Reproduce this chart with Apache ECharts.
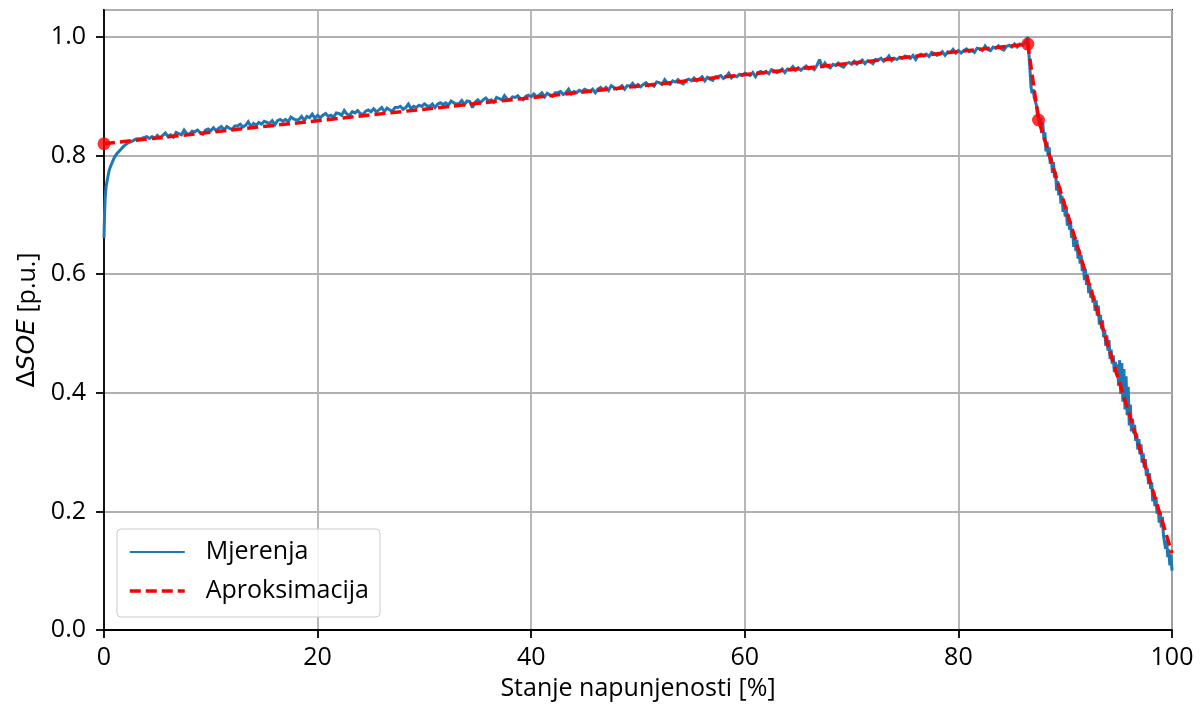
<!DOCTYPE html>
<html>
<head>
<meta charset="utf-8">
<script src="https://cdn.jsdelivr.net/npm/echarts@6/dist/echarts.min.js"></script>
<style>
html,body{margin:0;padding:0;background:#fff;}
#chart{width:1201px;height:713px;}
</style>
</head>
<body>
<div id="chart"></div>
<script>
// Measured ΔSOE (Mjerenja): x = state of charge [%], y = ΔSOE [p.u.]
const measX = [
  0, 0.05, 0.1, 0.15, 0.2, 0.3, 0.4, 0.5, 0.6, 0.8, 1.0, 1.2, 1.5, 1.8, 2.0, 2.3, 2.6, 3.0, 3.5,
  4, 4.25, 4.5, 4.75,
  5, 5.25, 5.5, 5.75, 6, 6.25, 6.5, 6.75, 7, 7.25, 7.5, 7.75, 8, 8.25, 8.5, 8.75, 9, 9.25, 9.5, 9.75,
  10, 10.25, 10.5, 10.75, 11, 11.25, 11.5, 11.75, 12, 12.25, 12.5, 12.75, 13, 13.25, 13.5, 13.75, 14, 14.25, 14.5, 14.75,
  15, 15.25, 15.5, 15.75, 16, 16.25, 16.5, 16.75, 17, 17.25, 17.5, 17.75, 18, 18.25, 18.5, 18.75, 19, 19.25, 19.5, 19.75,
  20, 20.25, 20.5, 20.75, 21, 21.25, 21.5, 21.75, 22, 22.25, 22.5, 22.75, 23, 23.25, 23.5, 23.75, 24, 24.25, 24.5, 24.75,
  25, 25.25, 25.5, 25.75, 26, 26.25, 26.5, 26.75, 27, 27.25, 27.5, 27.75, 28, 28.25, 28.5, 28.75, 29, 29.25, 29.5, 29.75,
  30, 30.25, 30.5, 30.75, 31, 31.25, 31.5, 31.75, 32, 32.25, 32.5, 32.75, 33, 33.25, 33.5, 33.75, 34, 34.25, 34.5, 34.75,
  35, 35.25, 35.5, 35.75, 36, 36.25, 36.5, 36.75, 37, 37.25, 37.5, 37.75, 38, 38.25, 38.5, 38.75, 39, 39.25, 39.5, 39.75,
  40, 40.25, 40.5, 40.75, 41, 41.25, 41.5, 41.75, 42, 42.25, 42.5, 42.75, 43, 43.25, 43.5, 43.75, 44, 44.25, 44.5, 44.75,
  45, 45.25, 45.5, 45.75, 46, 46.25, 46.5, 46.75, 47, 47.25, 47.5, 47.75, 48, 48.25, 48.5, 48.75, 49, 49.25, 49.5, 49.75,
  50, 50.25, 50.5, 50.75, 51, 51.25, 51.5, 51.75, 52, 52.25, 52.5, 52.75, 53, 53.25, 53.5, 53.75, 54, 54.25, 54.5, 54.75,
  55, 55.25, 55.5, 55.75, 56, 56.25, 56.5, 56.75, 57, 57.25, 57.5, 57.75, 58, 58.25, 58.5, 58.75, 59, 59.25, 59.5, 59.75,
  60, 60.25, 60.5, 60.75, 61, 61.25, 61.5, 61.75, 62, 62.25, 62.5, 62.75, 63, 63.25, 63.5, 63.75, 64, 64.25, 64.5, 64.75,
  65, 65.25, 65.5, 65.75, 66, 66.25, 66.5, 66.75, 67, 67.25, 67.5, 67.75, 68, 68.25, 68.5, 68.75, 69, 69.25, 69.5, 69.75,
  70, 70.25, 70.5, 70.75, 71, 71.25, 71.5, 71.75, 72, 72.25, 72.5, 72.75, 73, 73.25, 73.5, 73.75, 74, 74.25, 74.5, 74.75,
  75, 75.25, 75.5, 75.75, 76, 76.25, 76.5, 76.75, 77, 77.25, 77.5, 77.75, 78, 78.25, 78.5, 78.75, 79, 79.25, 79.5, 79.75,
  80, 80.25, 80.5, 80.75, 81, 81.25, 81.5, 81.75, 82, 82.25, 82.5, 82.75, 83, 83.25, 83.5, 83.75, 84, 84.25, 84.5, 84.75,
  85, 85.25, 85.5, 85.75, 86, 86.25, 86.4, 86.5, 86.6, 86.7, 86.8, 86.9, 87.0, 87.1, 87.2, 87.3, 87.4,
  87.5, 87.6, 87.7, 87.8, 87.9, 88.0, 88.1, 88.2, 88.3, 88.4, 88.5, 88.6, 88.7, 88.8, 88.9,
  89.0, 89.1, 89.2, 89.3, 89.4, 89.5, 89.6, 89.7, 89.8, 89.9,
  90.0, 90.1, 90.2, 90.3, 90.4, 90.5, 90.6, 90.7, 90.8, 90.9,
  91.0, 91.1, 91.2, 91.3, 91.4, 91.5, 91.6, 91.7, 91.8, 91.9,
  92.0, 92.1, 92.2, 92.3, 92.4, 92.5, 92.6, 92.7, 92.8, 92.9,
  93.0, 93.1, 93.2, 93.3, 93.4, 93.5, 93.6, 93.7, 93.8, 93.9,
  94.0, 94.1, 94.2, 94.3, 94.4, 94.5, 94.6, 94.7, 94.8, 94.9,
  95.0, 95.1, 95.2, 95.3, 95.4, 95.5, 95.6, 95.7, 95.8, 95.9,
  96.0, 96.1, 96.2, 96.3, 96.4, 96.5, 96.6, 96.7, 96.8, 96.9,
  97.0, 97.1, 97.2, 97.3, 97.4, 97.5, 97.6, 97.7, 97.8, 97.9,
  98.0, 98.1, 98.2, 98.3, 98.4, 98.5, 98.6, 98.7, 98.8, 98.9,
  99.0, 99.1, 99.2, 99.3, 99.4, 99.5, 99.6, 99.7, 99.8, 99.9, 100
];
const measY = [
  0.661, 0.700, 0.725, 0.737, 0.748, 0.758, 0.768, 0.776, 0.781, 0.790, 0.798, 0.803, 0.809, 0.815, 0.818, 0.822, 0.824, 0.828, 0.829,
  0.832, 0.829, 0.832, 0.829,
  0.834, 0.830, 0.834, 0.838, 0.832, 0.835, 0.831, 0.839, 0.837, 0.835, 0.843, 0.837, 0.836, 0.841, 0.840, 0.843, 0.839, 0.836, 0.843, 0.845,
  0.842, 0.847, 0.842, 0.846, 0.849, 0.843, 0.849, 0.846, 0.844, 0.850, 0.850, 0.853, 0.848, 0.851, 0.857, 0.849, 0.854, 0.851, 0.856, 0.853,
  0.858, 0.856, 0.854, 0.859, 0.852, 0.859, 0.861, 0.858, 0.861, 0.857, 0.865, 0.862, 0.860, 0.861, 0.866, 0.859, 0.866, 0.864, 0.870, 0.863,
  0.868, 0.864, 0.868, 0.871, 0.866, 0.868, 0.865, 0.872, 0.871, 0.868, 0.876, 0.870, 0.868, 0.874, 0.872, 0.876, 0.871, 0.869, 0.875, 0.877,
  0.874, 0.879, 0.874, 0.877, 0.881, 0.874, 0.880, 0.877, 0.875, 0.881, 0.881, 0.883, 0.878, 0.881, 0.887, 0.879, 0.883, 0.881, 0.885, 0.883,
  0.887, 0.884, 0.883, 0.887, 0.881, 0.887, 0.889, 0.886, 0.889, 0.885, 0.892, 0.889, 0.887, 0.888, 0.893, 0.886, 0.892, 0.891, 0.881, 0.890,
  0.894, 0.889, 0.894, 0.897, 0.892, 0.894, 0.890, 0.898, 0.896, 0.894, 0.901, 0.895, 0.894, 0.899, 0.898, 0.901, 0.896, 0.894, 0.900, 0.902,
  0.899, 0.904, 0.899, 0.902, 0.906, 0.899, 0.905, 0.902, 0.900, 0.906, 0.906, 0.908, 0.903, 0.906, 0.912, 0.904, 0.908, 0.906, 0.910, 0.908,
  0.912, 0.910, 0.908, 0.912, 0.906, 0.912, 0.915, 0.911, 0.915, 0.910, 0.918, 0.915, 0.912, 0.914, 0.918, 0.912, 0.918, 0.917, 0.922, 0.916,
  0.920, 0.916, 0.920, 0.923, 0.918, 0.920, 0.917, 0.924, 0.923, 0.920, 0.928, 0.922, 0.920, 0.926, 0.924, 0.928, 0.923, 0.921, 0.927, 0.929,
  0.926, 0.931, 0.926, 0.929, 0.933, 0.926, 0.932, 0.929, 0.927, 0.933, 0.933, 0.935, 0.930, 0.933, 0.939, 0.931, 0.935, 0.933, 0.937, 0.935,
  0.939, 0.937, 0.935, 0.940, 0.933, 0.940, 0.942, 0.939, 0.942, 0.938, 0.945, 0.943, 0.940, 0.942, 0.946, 0.940, 0.946, 0.945, 0.950, 0.944,
  0.948, 0.944, 0.948, 0.951, 0.946, 0.948, 0.945, 0.952, 0.962, 0.948, 0.956, 0.950, 0.948, 0.954, 0.952, 0.956, 0.951, 0.949, 0.955, 0.957,
  0.954, 0.959, 0.954, 0.958, 0.961, 0.955, 0.960, 0.958, 0.955, 0.962, 0.961, 0.964, 0.959, 0.962, 0.968, 0.960, 0.964, 0.962, 0.966, 0.964,
  0.968, 0.966, 0.964, 0.969, 0.962, 0.969, 0.971, 0.968, 0.971, 0.967, 0.974, 0.972, 0.969, 0.971, 0.975, 0.969, 0.975, 0.974, 0.979, 0.973,
  0.977, 0.973, 0.977, 0.980, 0.975, 0.977, 0.974, 0.981, 0.980, 0.977, 0.985, 0.979, 0.977, 0.983, 0.981, 0.985, 0.980, 0.978, 0.984, 0.986,
  0.983, 0.988, 0.983, 0.988, 0.986, 0.990, 0.992, 1.000, 0.972, 0.945, 0.915, 0.905, 0.912, 0.898, 0.892, 0.885, 0.880,
  0.878, 0.852, 0.864, 0.838, 0.856, 0.830, 0.839, 0.807, 0.823, 0.799, 0.814, 0.786, 0.798, 0.771, 0.789,
  0.763, 0.773, 0.741, 0.757, 0.733, 0.747, 0.719, 0.732, 0.705, 0.723,
  0.697, 0.714, 0.682, 0.699, 0.675, 0.689, 0.661, 0.673, 0.646, 0.664,
  0.639, 0.658, 0.626, 0.642, 0.618, 0.632, 0.605, 0.617, 0.590, 0.608,
  0.582, 0.599, 0.568, 0.584, 0.560, 0.574, 0.552, 0.564, 0.538, 0.556,
  0.530, 0.547, 0.515, 0.531, 0.508, 0.522, 0.494, 0.506, 0.479, 0.497,
  0.471, 0.489, 0.457, 0.473, 0.449, 0.463, 0.435, 0.452, 0.430, 0.448,
  0.412, 0.455, 0.398, 0.450, 0.385, 0.440, 0.372, 0.428, 0.362, 0.410,
  0.345, 0.380, 0.335, 0.356, 0.332, 0.346, 0.319, 0.331, 0.304, 0.322,
  0.296, 0.313, 0.282, 0.298, 0.274, 0.288, 0.260, 0.272, 0.246, 0.264,
  0.238, 0.249, 0.217, 0.233, 0.209, 0.224, 0.196, 0.208, 0.181, 0.199,
  0.173, 0.191, 0.159, 0.161, 0.137, 0.151, 0.123, 0.136, 0.109, 0.127, 0.100
];
// Piecewise-linear approximation (Aproksimacija)
const aproxX = [0, 86.5, 87.5, 100];
const aproxY = [0.82, 0.988, 0.86, 0.13];
// Breakpoints marked with red dots
const knotX = [0, 86.5, 87.5];
const knotY = [0.82, 0.988, 0.86];
// Axis ticks
const xTicks = [0, 20, 40, 60, 80, 100];
const yTicks = [0.0, 0.2, 0.4, 0.6, 0.8, 1.0];

const FONT = 'Open Sans';
const MATH = 'DejaVu Sans';
const FS = 25;

const measData = measX.map((x, i) => [x, measY[i]]);
const aproxData = aproxX.map((x, i) => [x, aproxY[i]]);
const knotData = knotX.map((x, i) => [x, knotY[i]]);

const chart = echarts.init(document.getElementById('chart'), null, {renderer: 'canvas'});
chart.setOption({
  animation: false,
  backgroundColor: '#ffffff',
  textStyle: {fontFamily: FONT},
  grid: {
    left: 104, right: 29, top: 10, bottom: 83,
    show: true, borderColor: '#000', borderWidth: 1.8, backgroundColor: 'transparent'
  },
  legend: {
    orient: 'vertical',
    left: 117, top: 529,
    padding: [9, 11, 12, 11],
    itemWidth: 55, itemHeight: 14,
    itemGap: 11,
    backgroundColor: 'rgba(255,255,255,0.85)',
    borderColor: '#cccccc', borderWidth: 1, borderRadius: 4,
    itemStyle: {opacity: 0, color: 'rgba(0,0,0,0)', borderWidth: 0},
    textStyle: {fontFamily: FONT, fontSize: FS, color: '#000', lineHeight: 28, padding: [0, 0, 0, 16]},
    data: [
      {name: 'Mjerenja', lineStyle: {color: '#1f77b4', width: 1.8}},
      {name: 'Aproksimacija', lineStyle: {color: '#ff0000', width: 3.5, type: [11, 5]}}
    ]
  },
  xAxis: {
    type: 'value', min: xTicks[0], max: xTicks[xTicks.length - 1], interval: 20,
    name: 'Stanje napunjenosti [%]', nameLocation: 'middle', nameGap: 46,
    nameTextStyle: {fontFamily: FONT, fontSize: FS, color: '#000'},
    axisLine: {show: true, lineStyle: {color: '#000', width: 1.8}},
    axisTick: {show: true, length: 8, lineStyle: {color: '#000', width: 1.8}},
    axisLabel: {fontFamily: FONT, fontSize: FS, color: '#000', margin: 15,
      formatter: v => xTicks.includes(v) ? String(v) : ''},
    splitLine: {show: true, lineStyle: {color: '#b0b0b0', width: 1.8}}
  },
  yAxis: {
    type: 'value', min: 0, max: 1.0455, interval: 0.2,
    name: '{m|Δ}{i|SOE}{a| [p.u.]}', nameLocation: 'middle', nameGap: 58, nameRotate: 90,
    nameTextStyle: {fontFamily: FONT, fontSize: FS, color: '#000',
      rich: {a: {fontFamily: FONT, fontSize: FS, color: '#000'},
             m: {fontFamily: MATH, fontSize: FS, color: '#000'},
             i: {fontFamily: MATH, fontSize: FS, color: '#000', fontStyle: 'italic'}}},
    axisLine: {show: true, lineStyle: {color: '#000', width: 1.8}},
    axisTick: {show: true, length: 8, lineStyle: {color: '#000', width: 1.8}},
    axisLabel: {fontFamily: FONT, fontSize: FS, color: '#000', margin: 18, showMaxLabel: false,
      formatter: v => {
        const t = yTicks.find(k => Math.abs(k - v) < 1e-6);
        return t === undefined ? '' : t.toFixed(1);
      }},
    splitLine: {show: true, lineStyle: {color: '#b0b0b0', width: 1.8}}
  },
  series: [
    {
      name: 'Mjerenja', type: 'line', data: measData,
      showSymbol: false, symbol: 'none',
      lineStyle: {color: '#1f77b4', width: 3.0, join: 'miter', miterLimit: 2},
      itemStyle: {color: '#1f77b4'},
      z: 3
    },
    {
      name: 'Aproksimacija', type: 'line', data: aproxData,
      showSymbol: false, symbol: 'none',
      lineStyle: {color: '#ff0000', width: 3.5, type: [11, 5]},
      itemStyle: {color: '#ff0000'},
      z: 4
    },
    {
      name: 'knots', type: 'scatter', data: knotData,
      symbol: 'circle', symbolSize: 13,
      itemStyle: {color: '#ff0000'},
      z: 5
    }
  ]
});
</script>
</body>
</html>
